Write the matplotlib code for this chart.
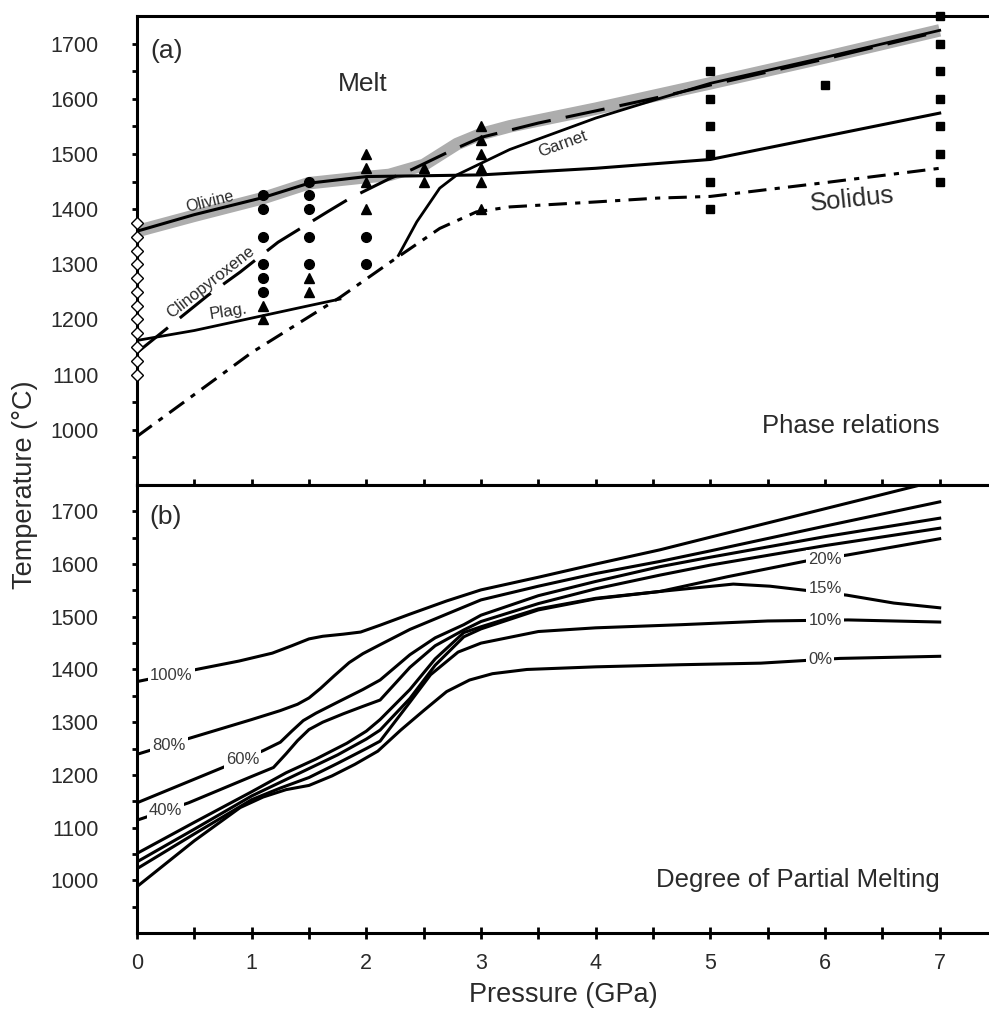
import numpy as np
import matplotlib.pyplot as plt

plt.rcParams['font.family'] = ['Liberation Sans', 'DejaVu Sans']

# ---------- (a) phase relations ----------
liq_P = [0, 0.5, 1.1, 1.5, 2.0, 2.2, 2.5, 2.79, 3.0, 3.25, 4.0, 5.0, 6.0, 7.0]
liq_T = [1360, 1388, 1420, 1447, 1458, 1462, 1480, 1518, 1536, 1550, 1582, 1628, 1675, 1724]

ol_P = [0, 0.5, 1.1, 1.5, 2.0, 3.0, 4.0, 5.0, 6.0, 7.0]
ol_T = [1360, 1390, 1421, 1447, 1459, 1462, 1474, 1490, 1532, 1574]

cpx_P = [0, 0.62, 0.9, 1.23, 1.66, 1.86, 2.2, 2.4, 2.75, 3.0, 3.5, 4.0, 4.6, 5.0, 6.0, 7.0]
cpx_T = [1140, 1244, 1286, 1340, 1395, 1420, 1455, 1472, 1507, 1530, 1556, 1578, 1605, 1625, 1672, 1722]

plag_P = [0, 0.5, 1.1, 1.5, 1.77]
plag_T = [1162, 1180, 1207, 1225, 1237]

gt_P = [2.28, 2.44, 2.64, 2.79, 3.0, 3.25, 4.0, 4.5, 5.0, 6.0, 7.0]
gt_T = [1316, 1377, 1438, 1462, 1483, 1508, 1565, 1597, 1628, 1675, 1724]

sol_P = [0, 1.0, 1.77, 2.21, 2.64, 2.96, 3.25, 4.0, 4.54, 5.0, 6.0, 7.0]
sol_T = [988, 1140, 1240, 1304, 1365, 1395, 1404, 1413, 1420, 1423, 1448, 1474]

# experiments
dia_P = [0, 0, 0, 0, 0, 0, 0, 0, 0, 0, 0, 0]
dia_T = [1100, 1125, 1150, 1175, 1200, 1225, 1250, 1275, 1300, 1325, 1350, 1375]

circ_P = [1.1, 1.1, 1.1, 1.1, 1.1, 1.1, 1.5, 1.5, 1.5, 1.5, 1.5, 2.0, 2.0]
circ_T = [1425, 1400, 1350, 1300, 1275, 1250, 1450, 1425, 1400, 1350, 1300, 1350, 1300]

tri_P = [1.1, 1.1, 1.5, 1.5, 2.0, 2.0, 2.0, 2.0, 2.5, 2.5, 3.0, 3.0, 3.0, 3.0, 3.0, 3.0]
tri_T = [1225, 1200, 1275, 1250, 1500, 1475, 1450, 1400, 1475, 1450,
         1550, 1525, 1500, 1475, 1450, 1400]

sq_P = [5, 5, 5, 5, 5, 5, 6, 7, 7, 7, 7, 7, 7, 7]
sq_T = [1650, 1600, 1550, 1500, 1450, 1400, 1625, 1750, 1700, 1650, 1600, 1550, 1500, 1450]

# ---------- (b) degree of partial melting ----------
m100_P = [0, 0.54, 0.89, 1.18, 1.35, 1.5, 1.62, 1.8, 1.95, 2.12, 2.38, 2.7, 3.0, 3.5, 4.0, 4.56,
          5.0, 5.5, 6.0, 6.5, 6.83]
m100_T = [1377, 1401, 1416, 1431, 1445, 1458, 1463, 1467, 1471, 1484, 1505, 1530, 1551, 1575, 1600, 1627,
          1651, 1678, 1705, 1732, 1750]

m80_P = [0, 0.45, 1.0, 1.25, 1.4, 1.5, 1.6, 1.72, 1.85, 1.97, 2.12, 2.38, 2.7, 3.0, 3.5, 4.0, 4.56,
         5.0, 6.0, 7.0]
m80_T = [1239, 1269, 1305, 1322, 1334, 1346, 1364, 1388, 1413, 1430, 1447, 1476, 1505, 1532, 1558, 1582, 1605,
         1625, 1672, 1718]

m60_P = [0, 0.77, 1.1, 1.25, 1.35, 1.45, 1.56, 1.75, 1.97, 2.12, 2.38, 2.6, 2.85, 3.0, 3.5, 4.0, 4.56,
         5.0, 6.0, 7.0]
m60_T = [1147, 1216, 1246, 1262, 1283, 1303, 1317, 1338, 1362, 1380, 1428, 1460, 1485, 1503, 1540, 1567, 1595,
         1613, 1652, 1687]

m40_P = [0, 0.45, 1.0, 1.19, 1.3, 1.4, 1.5, 1.62, 1.8, 1.97, 2.12, 2.38, 2.6, 2.85, 3.0, 3.5, 4.0, 4.56,
         5.0, 6.0, 7.0]
m40_T = [1114, 1147, 1197, 1214, 1240, 1265, 1286, 1300, 1316, 1330, 1342, 1404, 1445, 1475, 1491, 1525, 1553, 1579,
         1598, 1635, 1668]

m20_P = [0, 0.5, 1.0, 1.3, 1.56, 1.83, 2.0, 2.12, 2.38, 2.6, 2.85, 3.0, 3.5, 4.0, 4.56, 5.15, 5.84, 6.19, 7.0]
m20_T = [1051, 1110, 1168, 1204, 1230, 1260, 1283, 1305, 1362, 1420, 1470, 1481, 1515, 1535, 1548, 1576, 1606, 1617, 1648]

m15_P = [0, 0.5, 1.0, 1.5, 1.75, 2.0, 2.12, 2.38, 2.6, 2.85, 3.0, 3.5, 4.0, 4.56, 5.2, 5.52, 6.19, 6.6, 7.0]
m15_T = [1035, 1097, 1160, 1212, 1238, 1268, 1285, 1345, 1408, 1462, 1477, 1513, 1534, 1548, 1562, 1558, 1541, 1526, 1517]

m10_P = [0, 0.5, 1.0, 1.25, 1.5, 1.75, 2.0, 2.12, 2.38, 2.56, 2.8, 3.0, 3.5, 4.0, 4.75, 5.5, 6.2, 7.0]
m10_T = [1022, 1088, 1153, 1175, 1195, 1222, 1250, 1264, 1338, 1390, 1433, 1450, 1472, 1479, 1485, 1492, 1494, 1490]

m0_P = [0, 0.5, 0.9, 1.1, 1.3, 1.5, 1.7, 1.9, 2.1, 2.3, 2.5, 2.7, 2.9, 3.1, 3.4, 4.0, 4.74, 5.44, 6.13, 7.0]
m0_T = [988, 1075, 1138, 1158, 1172, 1180, 1198, 1220, 1245, 1285, 1322, 1358, 1380, 1392, 1400, 1405, 1409, 1412,
        1421, 1425]

melt_curves = [(m100_P, m100_T), (m80_P, m80_T), (m60_P, m60_T), (m40_P, m40_T),
               (m20_P, m20_T), (m15_P, m15_T), (m10_P, m10_T), (m0_P, m0_T)]
melt_labels = ['100%', '80%', '60%', '40%', '20%', '15%', '10%', '0%']
label_P = [0.3, 0.28, 0.92, 0.25, 6.0, 6.0, 6.0, 5.96]
label_T = [1389, 1256, 1229, 1132, 1609, 1553, 1493, 1418]

ink = '#2a2a2a'
fig = plt.figure(figsize=(9.89, 10.30), dpi=100)
L = 137 / 989
axA = fig.add_axes([L, 1 - 485 / 1030, 1 - L, (485 - 16) / 1030])
axB = fig.add_axes([L, 1 - 933 / 1030, 1 - L, (933 - 485) / 1030])

for ax in (axA, axB):
    ax.set_xlim(0, 7.43)
    ax.set_ylim(900, 1750)
    ax.spines['right'].set_visible(False)
    for s in ('left', 'bottom', 'top'):
        ax.spines[s].set_linewidth(2.2)
    ax.set_xticks(range(0, 8))
    ax.set_xticks(np.arange(0.5, 7.0, 1.0), minor=True)
    ax.set_yticks(range(1000, 1800, 100))
    ax.set_yticks(range(950, 1750, 100), minor=True)
    ax.tick_params(axis='x', which='both', direction='inout', length=9, width=2,
                   labelsize=15.5, labelcolor=ink, pad=10)
    ax.tick_params(axis='y', which='both', direction='out', length=3.5, width=2,
                   labelsize=15.5, labelcolor=ink, pad=24)

axA.tick_params(axis='x', labelbottom=False)

# ---- panel (a)
axA.plot(liq_P, liq_T, color='#adadad', lw=9, solid_capstyle='butt', zorder=1)
axA.plot(ol_P, ol_T, color='black', lw=2.2, zorder=3)
axA.plot(cpx_P, cpx_T, color='black', lw=2.2, dashes=(13, 5), zorder=3)
axA.plot(plag_P, plag_T, color='black', lw=2.0, zorder=3)
axA.plot(gt_P, gt_T, color='black', lw=2.0, zorder=3)
axA.plot(sol_P, sol_T, color='black', lw=2.2, dashes=(6, 2.7, 1.7, 2.7), zorder=3)

axA.plot(dia_P, dia_T, ls='none', marker='D', ms=6.5, mfc='white', mec='black',
         mew=1.0, clip_on=False, zorder=5)
axA.plot(circ_P, circ_T, ls='none', marker='o', ms=7, color='black', zorder=4)
axA.plot(tri_P, tri_T, ls='none', marker='^', ms=7, color='black', zorder=4)
axA.plot(sq_P, sq_T, ls='none', marker='s', ms=5.5, color='black', clip_on=False, zorder=4)

axA.text(0.26, 1687, '(a)', fontsize=19, color=ink, ha='center', va='center')
axA.text(1.97, 1627, 'Melt', fontsize=19, color=ink, ha='center', va='center')
axA.text(6.24, 1417, 'Solidus', fontsize=18.5, color=ink, ha='center', va='center', rotation=6)
axA.text(7.0, 1007, 'Phase relations', fontsize=18.5, color=ink, ha='right', va='center')
axA.text(0.64, 1413, 'Olivine', fontsize=11.5, color=ink, ha='center', va='center', rotation=14)
axA.text(0.64, 1268, 'Clinopyroxene', fontsize=12, color=ink, ha='center', va='center', rotation=38)
axA.text(0.8, 1215, 'Plag.', fontsize=12, color=ink, ha='center', va='center', rotation=9)
axA.text(3.71, 1518, 'Garnet', fontsize=12, color=ink, ha='center', va='center', rotation=20)

# ---- panel (b)
for (p, t) in melt_curves:
    axB.plot(p, t, color='black', lw=2.2, zorder=2, solid_joinstyle='round')
for lab, p, t in zip(melt_labels, label_P, label_T):
    axB.text(p, t, lab, fontsize=12, color='#3a3a3a', ha='center', va='center', zorder=4,
             bbox=dict(facecolor='white', edgecolor='none', pad=1.5))

axB.text(0.25, 1690, '(b)', fontsize=19, color=ink, ha='center', va='center')
axB.text(7.0, 1000, 'Degree of Partial Melting', fontsize=18.5, color=ink,
         ha='right', va='center')

axB.set_xlabel('Pressure (GPa)', fontsize=19.5, color=ink, labelpad=6)
fig.text(25 / 989, 1 - 485 / 1030, 'Temperature (°C)', fontsize=19.5, color=ink,
         rotation=90, ha='center', va='center')

fig.savefig('out.png', dpi=100)
